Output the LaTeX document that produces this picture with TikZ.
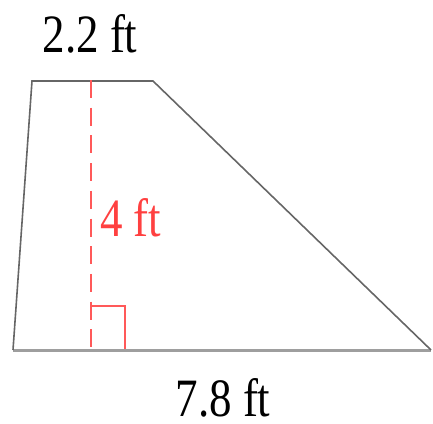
\documentclass[tikz,border=0pt]{standalone}
\usepackage{fontspec}
\setmainfont{Liberation Serif}
\begin{document}
\begin{tikzpicture}[x=1pt,y=-1pt,
  edge/.style={draw=black!60,line width=1.6pt},
  bottomedge/.style={draw=black!38,line width=3pt},
  redline/.style={draw=red!65,line width=2pt},
  lbl/.style={inner sep=0pt,text depth=0pt,font=\fontsize{45}{45}\selectfont,yscale=1.2,transform shape}]
\useasboundingbox (0,0) rectangle (433,423);
\coordinate (TL) at (32,81);
\coordinate (TR) at (153,81);
\coordinate (BR) at (431,350);
\coordinate (BL) at (13,350);
\coordinate (DT) at (91,80);
\coordinate (DB) at (91,349);
\draw[bottomedge] (BL) -- (BR);
\draw[edge,line join=miter] (BR) -- (TR) -- (TL) -- (BL);
\draw[redline,dash pattern=on 18pt off 9.7pt] (DT) -- (DB);
\coordinate (R1) at (91,306);
\coordinate (R2) at (125,306);
\coordinate (R3) at (125,349);
\draw[redline,line width=2.5pt] (R1) -- (R2) -- (R3);
\node[lbl,anchor=base] (top) at (90,52) {2.2 ft};
\node[lbl,anchor=base west,text=red!75] (h) at (100,236) {4 ft};
\node[lbl,anchor=base] (bot) at (223,416) {7.8 ft};
\end{tikzpicture}
\end{document}
